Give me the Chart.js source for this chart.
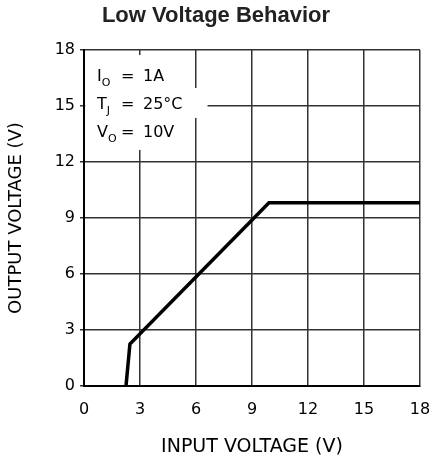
<!DOCTYPE html>
<html>
<head>
<meta charset="utf-8">
<script src="https://cdn.jsdelivr.net/npm/chart.js@4"></script>
<style>
  html, body { margin: 0; padding: 0; background: #fff; }
  #wrap { width: 432px; height: 461px; }
</style>
</head>
<body>
<div id="wrap"><canvas id="chartz"></canvas></div>
<script>
'use strict'

// curve
const inputV = [2.25, 2.46, 9.91, 18];
const outputV = [0, 2.25, 9.82, 9.82];

const xTicks = [0, 3, 6, 9, 12, 15, 18];
const yTicks = [0, 3, 6, 9, 12, 15, 18];

// conditions box text: [main, subscript, value]
const notes = [
  ['I', 'O', '1A'],
  ['T', 'J', '25°C'],
  ['V', 'O', '10V']
];

const plotFont = "'DejaVu Sans', sans-serif";

const points = inputV.map((v, i) => ({x: v, y: outputV[i]}));

//white box with the test conditions
const notesBox = {
  id: 'notesBox',
  beforeDatasetsDraw(chart) {
    const ctx = chart.ctx;
    const a = chart.chartArea;
    ctx.save();
    ctx.fillStyle = '#fff';
    ctx.fillRect(a.left + 1.5, a.top + 5, 106, 95);
    ctx.fillRect(a.left + 1.5, a.top + 38, 122, 30);
    ctx.fillStyle = '#000';
    ctx.textBaseline = 'alphabetic';
    let y = a.top + 31;
    notes.forEach(n => {
      let x = a.left + 13;
      ctx.font = '16px ' + plotFont;
      ctx.fillText(n[0], x, y);
      x += ctx.measureText(n[0]).width;
      ctx.font = '11px ' + plotFont;
      ctx.fillText(n[1], x, y + 5);
      ctx.font = '16px ' + plotFont;
      ctx.fillText('=', a.left + 37, y);
      ctx.fillText(n[2], a.left + 59, y);
      y += 28;
    });
    ctx.restore();
  }
};

const data = {
  datasets: [{
    data: points,
    showLine: true,
    borderColor: '#000',
    borderWidth: 3.5,
    pointRadius: 0,
    fill: false,
    tension: 0
  }]
};

const config = {
  type: 'scatter',
  data: data,
  options: {
    responsive: true,
    maintainAspectRatio: false,
    animation: false,
    layout: {padding: 0},
    plugins: {
      legend: {display: false},
      tooltip: {enabled: false},
      title: {
        display: true,
        text: 'Low Voltage Behavior',
        color: '#222',
        font: {family: "'Liberation Sans', Arial, sans-serif", size: 22, weight: 'bold'},
        padding: {top: 2.8, bottom: 20.8}
      }
    },
    scales: {
      x: {
        type: 'linear',
        min: 0, max: 18,
        afterBuildTicks: s => { s.ticks = xTicks.map(v => ({value: v})); },
        afterFit: s => { s.height = 75; s.paddingLeft = 0; s.paddingRight = 12; },
        grid: {color: '#333', lineWidth: 1.5, drawTicks: false},
        border: {color: '#000', width: 2},
        ticks: {color: '#000', padding: 14, maxRotation: 0, font: {family: plotFont, size: 16}},
        title: {
          display: true,
          text: 'INPUT VOLTAGE (V)',
          color: '#000',
          font: {family: plotFont, size: 19},
          padding: {top: 0, bottom: 3}
        }
      },
      y: {
        type: 'linear',
        min: 0, max: 18,
        afterBuildTicks: s => { s.ticks = yTicks.map(v => ({value: v})); },
        afterFit: s => { s.width = 84; },
        grid: {color: '#333', lineWidth: 1.5, tickLength: 4},
        border: {color: '#000', width: 2},
        ticks: {color: '#000', padding: 5, font: {family: plotFont, size: 16}},
        title: {
          display: true,
          text: 'OUTPUT VOLTAGE (V)',
          color: '#000',
          font: {family: plotFont, size: 18},
          padding: {top: 6, bottom: 0}
        }
      }
    }
  },
  plugins: [notesBox]
};

const myChart = new Chart(document.getElementById('chartz'), config);
</script>
</body>
</html>
